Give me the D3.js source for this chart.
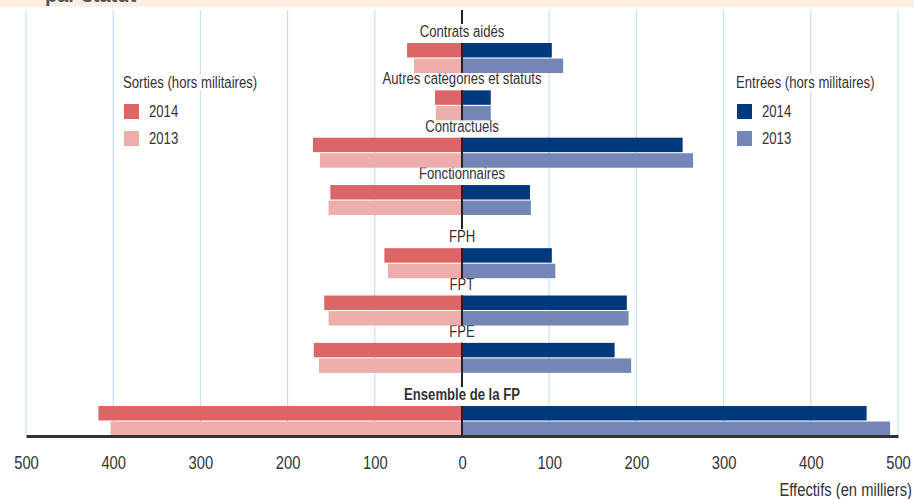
<!DOCTYPE html>
<html>
<head>
<meta charset="utf-8">
<script src="https://cdn.jsdelivr.net/npm/d3@7"></script>
<style>
  body { margin: 0; background: #fff; }
  svg { display: block; }
  text { font-family: "Liberation Sans", Arial, sans-serif; fill: #333; }
</style>
</head>
<body>
<div id="chart"></div>
<script>
// categories, grouped in the three blocks of the chart
var sections = [
  ["Contrats aidés", "Autres catégories et statuts", "Contractuels", "Fonctionnaires"],
  ["FPH", "FPT", "FPE"],
  ["Ensemble de la FP"]
];
var years = ["2014", "2013"];
// effectifs en milliers
var sorties2014 = [63, 31, 171, 151, 89, 158, 170, 417];
var sorties2013 = [55, 30, 163, 153, 85, 153, 164, 403];
var entrees2014 = [103, 33, 253, 78, 103, 189, 175, 464];
var entrees2013 = [116, 33, 265, 79, 107, 191, 194, 491];
var tickValues = [-500, -400, -300, -200, -100, 0, 100, 200, 300, 400, 500];
var titleText = "par statut";
var sortiesTitle = "Sorties (hors militaires)";
var entreesTitle = "Entrées (hors militaires)";
var axisTitle = "Effectifs (en milliers)";

var width = 914;
var height = 499;
var colors = {
  s2014: "#dc6565",
  s2013: "#edaeab",
  e2014: "#003a7c",
  e2013: "#7386b6"
};

// squeeze text horizontally, like a narrow font
function narrow(sel) {
  sel.each(function() {
    var w = this.getComputedTextLength();
    d3.select(this)
      .attr("textLength", w * 0.82)
      .attr("lengthAdjust", "spacingAndGlyphs");
  });
}

// build rows with a slot index (extra gap between blocks)
var rows = [];
var slot = 0;
var idx = 0;
sections.forEach(function(sec, si) {
  if (si > 0) slot += 1 / 3;
  sec.forEach(function(cat) {
    rows.push({
      cat: cat,
      slot: slot,
      bold: cat == "Ensemble de la FP",
      s2014: sorties2014[idx],
      s2013: sorties2013[idx],
      e2014: entrees2014[idx],
      e2013: entrees2013[idx]
    });
    slot += 1;
    idx++;
  });
});
var lastSlot = rows[rows.length - 1].slot;

var x = d3.scaleLinear().domain([-500, 500]).range([26, 898]);
var y = d3.scaleLinear().domain([0, lastSlot]).range([43, 406]);
var yb = d3.scaleBand().domain(years).range([0, 30]).paddingInner(0.07);

var plotTop = 10;
var plotBottom = 436;

var svg = d3
  .select("#chart")
  .append("svg")
  .attr("width", width)
  .attr("height", height);

// header strip (title cut off at top)
svg.append("rect")
  .attr("x", 0).attr("y", 0)
  .attr("width", width).attr("height", 7)
  .attr("fill", "#fdeee4");
svg.append("text")
  .attr("x", 45).attr("y", 2)
  .style("font-weight", "bold")
  .style("font-size", "20px")
  .style("fill", "#555")
  .text(titleText);

// gridlines
svg.selectAll(".grid")
  .data(tickValues.filter(function(d) { return d != 0; }))
  .enter()
  .append("line")
  .attr("class", "grid")
  .attr("x1", function(d) { return x(d); })
  .attr("x2", function(d) { return x(d); })
  .attr("y1", plotTop)
  .attr("y2", plotBottom)
  .attr("stroke", "#b9ddf3")
  .attr("stroke-width", 1);

// center line
svg.append("line")
  .attr("x1", x(0)).attr("x2", x(0))
  .attr("y1", plotTop).attr("y2", plotBottom)
  .attr("stroke", "#222")
  .attr("stroke-width", 2);

// category labels (white box hides the center line)
var labels = svg.selectAll(".lab")
  .data(rows)
  .enter()
  .append("g")
  .attr("class", "lab");

labels.append("text")
  .attr("x", x(0))
  .attr("y", function(d) { return y(d.slot) - 6; })
  .attr("text-anchor", "middle")
  .style("font-size", "16px")
  .style("font-weight", function(d) { return d.bold ? "bold" : "normal"; })
  .text(function(d) { return d.cat; })
  .call(narrow);

labels.each(function(d) {
  var g = d3.select(this);
  var bb = g.select("text").node().getBBox();
  g.insert("rect", "text")
    .attr("x", bb.x - 3)
    .attr("y", y(d.slot) - 19)
    .attr("width", bb.width + 6)
    .attr("height", 19)
    .attr("fill", "#fff");
});

// bars
var bars = [
  { key: "s2014", year: "2014", side: -1 },
  { key: "s2013", year: "2013", side: -1 },
  { key: "e2014", year: "2014", side: 1 },
  { key: "e2013", year: "2013", side: 1 }
];
bars.forEach(function(b) {
  svg.selectAll(".bar-" + b.key)
    .data(rows)
    .enter()
    .append("rect")
    .attr("class", "bar-" + b.key)
    .attr("x", function(d) { return b.side < 0 ? x(-d[b.key]) : x(0); })
    .attr("width", function(d) { return x(d[b.key]) - x(0); })
    .attr("y", function(d) { return y(d.slot) + yb(b.year); })
    .attr("height", yb.bandwidth())
    .attr("fill", colors[b.key]);
});

// center line over the bars
svg.selectAll(".cseg")
  .data(rows)
  .enter()
  .append("line")
  .attr("class", "cseg")
  .attr("x1", x(0)).attr("x2", x(0))
  .attr("y1", function(d) { return y(d.slot); })
  .attr("y2", function(d) { return y(d.slot) + 30; })
  .attr("stroke", "#222")
  .attr("stroke-width", 2);

// axis
var axis = svg.append("g")
  .attr("transform", "translate(0," + plotBottom + ")")
  .call(d3.axisBottom(x)
    .tickValues(tickValues)
    .tickFormat(function(d) { return Math.abs(d); })
    .tickSize(0)
    .tickPadding(20));
axis.select(".domain")
  .attr("stroke", "#333")
  .attr("stroke-width", 3);
axis.selectAll("text")
  .style("font-family", "'Liberation Sans', Arial, sans-serif")
  .style("font-size", "18px")
  .attr("fill", "#333")
  .call(narrow);

svg.append("text")
  .attr("x", 912)
  .attr("y", 496)
  .attr("text-anchor", "end")
  .style("font-size", "18px")
  .text(axisTitle)
  .call(narrow);

// legends
function legend(x0, title, keys) {
  var t = svg.append("text")
    .attr("x", x0)
    .attr("y", 88)
    .style("font-size", "16px")
    .text(title)
    .call(narrow);
  var bb = t.node().getBBox();
  svg.insert("rect", function() { return t.node(); })
    .attr("x", bb.x - 2).attr("y", bb.y)
    .attr("width", bb.width + 4).attr("height", bb.height)
    .attr("fill", "#fff");
  keys.forEach(function(k, i) {
    svg.append("rect")
      .attr("x", x0 + 1)
      .attr("y", 104 + i * 27)
      .attr("width", 15)
      .attr("height", 15)
      .attr("fill", colors[k]);
    svg.append("text")
      .attr("x", x0 + 26)
      .attr("y", 117 + i * 27)
      .style("font-size", "16px")
      .text(years[i])
      .call(narrow);
  });
}
legend(123, sortiesTitle, ["s2014", "s2013"]);
legend(736, entreesTitle, ["e2014", "e2013"]);
</script>
</body>
</html>
